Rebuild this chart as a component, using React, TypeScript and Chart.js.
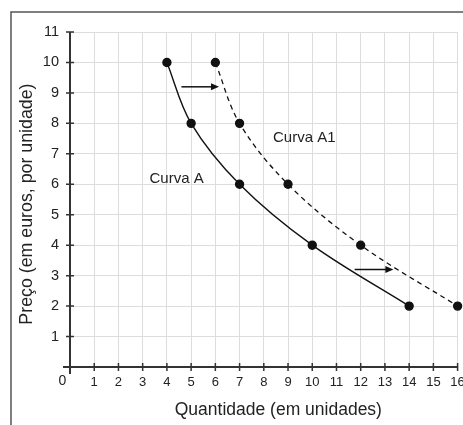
import React, { useEffect, useRef } from "react";
import { Chart, registerables } from "chart.js";

Chart.register(...registerables);

const curveA = [
  { x: 4, y: 10 },
  { x: 5, y: 8 },
  { x: 7, y: 6 },
  { x: 10, y: 4 },
  { x: 14, y: 2 },
];
const curveA1 = [
  { x: 6, y: 10 },
  { x: 7, y: 8 },
  { x: 9, y: 6 },
  { x: 12, y: 4 },
  { x: 16, y: 2 },
];
const xTicks = [1, 2, 3, 4, 5, 6, 7, 8, 9, 10, 11, 12, 13, 14, 15, 16];
const yTicks = [1, 2, 3, 4, 5, 6, 7, 8, 9, 10, 11];
const arrows = [
  { x1: 4.6, x2: 6.15, y: 9.2 },
  { x1: 11.75, x2: 13.35, y: 3.2 },
];
const curveLabels = [
  { text: "Curva A", x: 4.4, y: 6.17 },
  { text: "Curva A1", x: 9.67, y: 7.52 },
];
const xTitle = "Quantidade (em unidades)";
const yTitle = "Preço (em euros, por unidade)";

const FONT = "'Liberation Sans', Arial, sans-serif";
const TEXT = "#222";
const AXIS = "#333";

const decorPlugin = {
  id: "decor",
  beforeDatasetsDraw(chart: any) {
    const { ctx } = chart;
    const xs = chart.scales.x;
    const ys = chart.scales.y;
    const x0 = xs.getPixelForValue(0);
    const y0 = ys.getPixelForValue(0);
    ctx.save();
    ctx.strokeStyle = AXIS;
    ctx.lineWidth = 2;
    ctx.beginPath();
    ctx.moveTo(x0 - 7, y0);
    ctx.lineTo(xs.getPixelForValue(16), y0);
    ctx.moveTo(x0, ys.getPixelForValue(11));
    ctx.lineTo(x0, y0 + 7);
    ctx.stroke();
    ctx.lineWidth = 1.5;
    ctx.beginPath();
    xTicks.forEach((v) => {
      const p = xs.getPixelForValue(v);
      ctx.moveTo(p, y0 - 4);
      ctx.lineTo(p, y0 + 4);
    });
    yTicks.forEach((v) => {
      const p = ys.getPixelForValue(v);
      ctx.moveTo(x0 - 4, p);
      ctx.lineTo(x0 + 4, p);
    });
    ctx.stroke();
    ctx.restore();
  },
  afterDatasetsDraw(chart: any) {
    const { ctx } = chart;
    const xs = chart.scales.x;
    const ys = chart.scales.y;
    ctx.save();
    ctx.strokeStyle = "#111";
    ctx.fillStyle = "#111";
    ctx.lineWidth = 1.5;
    arrows.forEach((a) => {
      const px1 = xs.getPixelForValue(a.x1);
      const px2 = xs.getPixelForValue(a.x2);
      const py = ys.getPixelForValue(a.y);
      ctx.beginPath();
      ctx.moveTo(px1, py);
      ctx.lineTo(px2 - 6, py);
      ctx.stroke();
      ctx.beginPath();
      ctx.moveTo(px2, py);
      ctx.lineTo(px2 - 8, py - 3.5);
      ctx.lineTo(px2 - 8, py + 3.5);
      ctx.closePath();
      ctx.fill();
    });
    ctx.fillStyle = TEXT;
    ctx.font = `15px ${FONT}`;
    ctx.textAlign = "center";
    ctx.textBaseline = "middle";
    curveLabels.forEach((l) => {
      ctx.fillText(l.text, xs.getPixelForValue(l.x), ys.getPixelForValue(l.y));
    });
    ctx.font = `14px ${FONT}`;
    ctx.fillText("0", xs.getPixelForValue(0) - 7.5, ys.getPixelForValue(0) + 14);
    // axis titles
    ctx.font = `17.5px ${FONT}`;
    ctx.fillText(xTitle, xs.getPixelForValue(8.6), ys.getPixelForValue(0) + 43.5);
    ctx.save();
    ctx.translate(xs.getPixelForValue(0) - 42.5, ys.getPixelForValue(5.35));
    ctx.rotate(-Math.PI / 2);
    ctx.font = `17.8px ${FONT}`;
    ctx.fillText(yTitle, 0, 0);
    ctx.restore();
    ctx.restore();
  },
  afterDraw(chart: any) {
    const { ctx, width, height } = chart;
    ctx.save();
    ctx.strokeStyle = "#555";
    ctx.lineWidth = 1.5;
    ctx.beginPath();
    ctx.moveTo(11, height);
    ctx.lineTo(11, 12);
    ctx.lineTo(width, 12);
    ctx.stroke();
    ctx.restore();
  },
};

export default function App() {
  const ref = useRef<HTMLCanvasElement>(null);
  useEffect(() => {
    if (!ref.current) return;
    const chart = new Chart(ref.current, {
      type: "scatter",
      data: {
        datasets: [
          {
            data: curveA,
            showLine: true,
            borderColor: "#111",
            backgroundColor: "#111",
            borderWidth: 1.4,
            pointRadius: 4,
            pointHoverRadius: 4,
            tension: 0.35,
            clip: false as any,
          },
          {
            data: curveA1,
            showLine: true,
            borderColor: "#111",
            backgroundColor: "#111",
            borderWidth: 1.3,
            borderDash: [5, 4],
            pointRadius: 4,
            pointHoverRadius: 4,
            tension: 0.35,
            clip: false as any,
          },
        ],
      },
      options: {
        animation: false,
        responsive: true,
        maintainAspectRatio: false,
        layout: { padding: { top: 32, right: 4, left: 0, bottom: 0 } },
        plugins: { legend: { display: false }, tooltip: { enabled: false } },
        scales: {
          x: {
            type: "linear",
            min: 0,
            max: 16,
            afterFit: (s: any) => {
              s.height = 58;
              s.paddingLeft = 0;
              s.paddingRight = 0;
            },
            ticks: {
              stepSize: 1,
              autoSkip: false,
              maxRotation: 0,
              padding: 8,
              color: TEXT,
              font: { family: FONT, size: 13 },
              callback: (v: any) => (v === 0 ? "" : String(v)),
            },
            grid: { color: "#dddddd", lineWidth: 1, drawTicks: false },
            border: { display: false },
            title: { display: false },
          },
          y: {
            type: "linear",
            min: 0,
            max: 11,
            afterFit: (s: any) => {
              s.width = 70;
              s.paddingTop = 0;
              s.paddingBottom = 0;
            },
            ticks: {
              stepSize: 1,
              autoSkip: false,
              padding: 11,
              color: TEXT,
              font: { family: FONT, size: 14.5 },
              callback: (v: any) => (v === 0 ? "" : String(v)),
            },
            grid: { color: "#dddddd", lineWidth: 1, drawTicks: false },
            border: { display: false },
            title: { display: false },
          },
        },
      },
      plugins: [decorPlugin],
    });
    return () => chart.destroy();
  }, []);
  return (
    <div style={{ position: "fixed", left: 0, top: 0, width: 463, height: 425, background: "#fff" }}>
      <canvas ref={ref} />
    </div>
  );
}
